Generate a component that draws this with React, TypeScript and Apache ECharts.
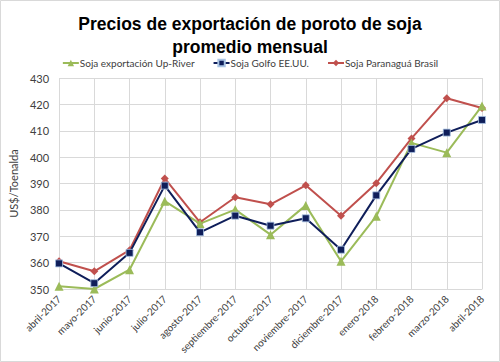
import React, { useEffect, useRef } from "react";
import * as echarts from "echarts";

const categories = [
  "abril-2017", "mayo-2017", "junio-2017", "julio-2017", "agosto-2017",
  "septiembre-2017", "octubre-2017", "noviembre-2017", "diciembre-2017",
  "enero-2018", "febrero-2018", "marzo-2018", "abril-2018",
];
const upRiver = [351, 350, 357.3, 383.3, 374.8, 380.1, 370.6, 381.7, 360.5, 377.6, 405.4, 401.7, 419.4];
const golfo = [359.7, 352.2, 363.7, 389.2, 371.5, 377.8, 374.0, 376.8, 364.9, 385.5, 403.1, 409.3, 414.1];
const paranagua = [360.5, 356.7, 364.7, 391.9, 375.3, 384.8, 382.1, 389.3, 377.8, 390.1, 407.1, 422.3, 418.6];
const seriesNames = ["Soja exportación Up-River", "Soja Golfo EE.UU.", "Soja Paranaguá Brasil"];

export default function App() {
  const ref = useRef<HTMLDivElement>(null);
  useEffect(() => {
    document.body.style.margin = "0";
    const chart = echarts.init(ref.current!, null, { renderer: "svg" });
    const font = "Lato, 'Open Sans', sans-serif";
    chart.setOption({
      animation: false,
      backgroundColor: "#ffffff",
      graphic: [
        {
          type: "rect",
          shape: { x: 0.5, y: 0.5, width: 499, height: 361 },
          style: { fill: "none", stroke: "#D9D9D9", lineWidth: 1 },
        },
      ],
      title: {
        text: "Precios de exportación de poroto de soja\npromedio mensual",
        left: "center",
        top: 7,
        textStyle: {
          fontFamily: "'Liberation Sans', Arial, sans-serif",
          fontWeight: "bold",
          fontSize: 17.5,
          lineHeight: 23,
          color: "#000000",
        },
      },
      legend: {
        top: 53,
        left: "center",
        itemGap: 18,
        itemWidth: 16,
        itemHeight: 8,
        textStyle: { fontFamily: font, fontSize: 10, color: "#404040", padding: [0, 0, 0, -4] },
        data: seriesNames,
      },
      grid: { left: 40, right: 18, top: 78, bottom: 73 },
      xAxis: {
        type: "category",
        data: categories,
        boundaryGap: false,
        axisLine: { show: true, lineStyle: { color: "#D9D9D9" } },
        axisTick: { show: false },
        splitLine: { show: true, lineStyle: { color: "#D9D9D9" } },
        axisLabel: {
          rotate: 45,
          interval: 0,
          fontFamily: font,
          fontSize: 10,
          color: "#404040",
          margin: 8,
        },
      },
      yAxis: {
        type: "value",
        min: 350,
        max: 430,
        interval: 10,
        name: "US$/Toenalda",
        nameLocation: "middle",
        nameGap: 27,
        nameTextStyle: { fontFamily: font, fontSize: 11, color: "#404040" },
        axisLine: { show: false },
        axisTick: { show: false },
        splitLine: { lineStyle: { color: "#D9D9D9" } },
        axisLabel: { fontFamily: font, fontSize: 11, color: "#404040", margin: 10 },
      },
      series: [
        {
          name: seriesNames[0],
          type: "line",
          data: upRiver,
          symbol: "triangle",
          symbolSize: 9,
          lineStyle: { color: "#9BBB59", width: 2 },
          itemStyle: { color: "#9BBB59" },
          z: 2,
        },
        {
          name: seriesNames[1],
          type: "line",
          data: golfo,
          symbol: "rect",
          symbolSize: 7,
          lineStyle: { color: "#0F1E5A", width: 2 },
          itemStyle: { color: "#0F1E5A", borderColor: "#A9C4E4", borderWidth: 0.8 },
          z: 3,
        },
        {
          name: seriesNames[2],
          type: "line",
          data: paranagua,
          symbol: "diamond",
          symbolSize: 8,
          lineStyle: { color: "#C0504D", width: 2 },
          itemStyle: { color: "#C0504D" },
          z: 1,
        },
      ],
    });
    return () => chart.dispose();
  }, []);
  return <div ref={ref} style={{ width: 500, height: 362 }} />;
}
